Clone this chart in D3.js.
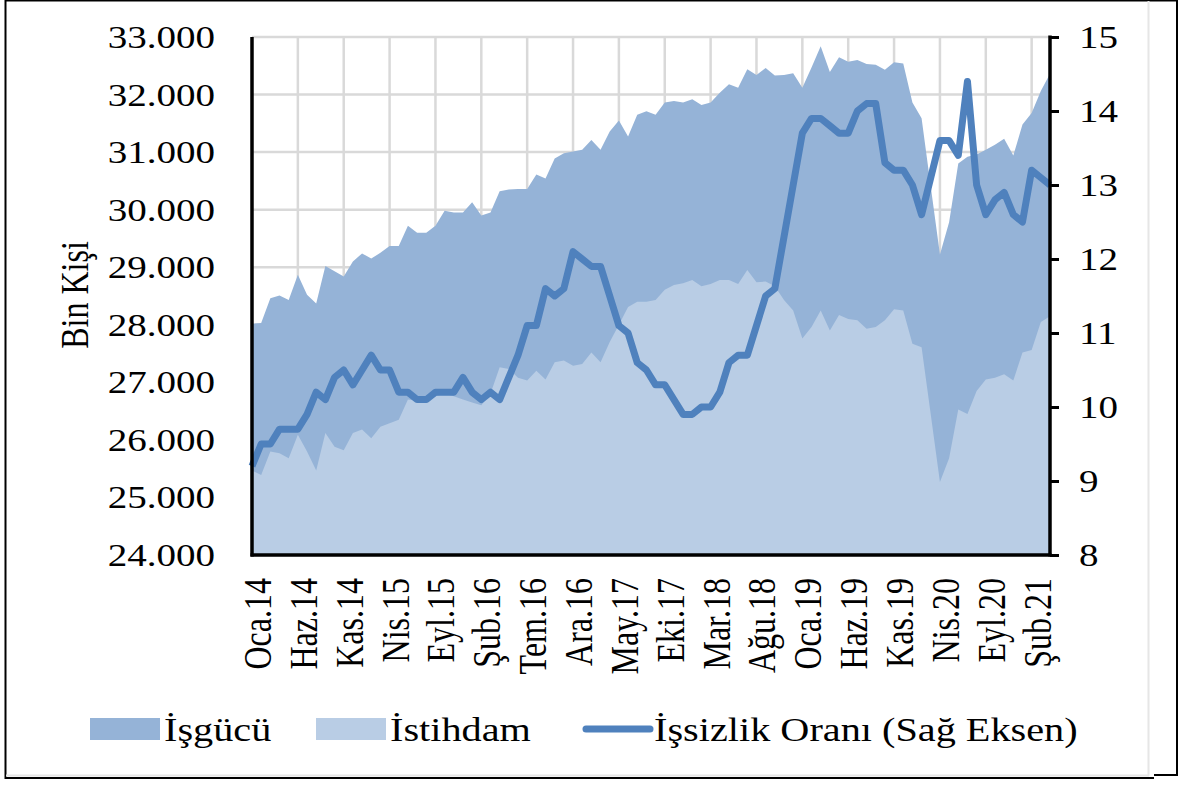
<!DOCTYPE html>
<html>
<head>
<meta charset="utf-8">
<script src="https://cdn.jsdelivr.net/npm/d3@7"></script>
<style>
    html, body { margin: 0; padding: 0; background: #fff; }
    svg text { font-family: "Liberation Serif", "Times New Roman", serif; fill: #000; }
</style>
</head>
<body>
<div class="data_figure"></div>
<script>
// month names used on the category axis
const monthNames = ["Oca", "Şub", "Mar", "Nis", "May", "Haz", "Tem", "Ağu", "Eyl", "Eki", "Kas", "Ara"];
const firstYear = 2014;
const pointCount = 88; // Oca.14 .. Nis.21

const tickLabels = ["Oca.14", "Haz.14", "Kas.14", "Nis.15", "Eyl.15", "Şub.16", "Tem.16", "Ara.16", "May.17",
                    "Eki.17", "Mar.18", "Ağu.18", "Oca.19", "Haz.19", "Kas.19", "Nis.20", "Eyl.20", "Şub.21"];

// İşgücü (bin kişi)
const isgucu = [
    28020, 28030, 28460, 28510, 28430, 28870, 28520, 28370, 29020, 28930, 28840, 29100,
    29240, 29150, 29250, 29370, 29370, 29720, 29600, 29600, 29720, 29980, 29950, 29950,
    30130, 29900, 29950, 30320, 30350, 30360, 30360, 30610, 30540, 30890, 30980, 31010,
    31040, 31210, 31040, 31360, 31550, 31270, 31650, 31710, 31650, 31860, 31890, 31860,
    31920, 31820, 31860, 32030, 32180, 32120, 32440, 32340, 32460, 32330, 32340, 32370,
    32120, 32470, 32840, 32390, 32650, 32570, 32600, 32530, 32520, 32430, 32560, 32540,
    31860, 31590, 30400, 29220, 29780, 30800, 30920, 30960, 31040, 31130, 31230, 30940,
    31480, 31680, 32060, 32360
];

// İstihdam (bin kişi)
const istihdam = [
    25470, 25390, 25800, 25770, 25680, 26090, 25800, 25470, 26120, 25880, 25820, 26120,
    26180, 26030, 26230, 26290, 26350, 26700, 26680, 26700, 26760, 26800, 26760, 26700,
    26650, 26600, 26800, 27260, 27230, 27080, 27030, 27200, 27050, 27350, 27380, 27290,
    27320, 27520, 27350, 27700, 28000, 28310, 28400, 28400, 28430, 28610, 28690, 28720,
    28780, 28670, 28710, 28780, 28780, 28710, 28950, 28740, 28750, 28670, 28430, 28250,
    27760, 27960, 28250, 27900, 28170, 28100, 28080, 27930, 27960, 28080, 28270, 28250,
    27670, 27610, 26440, 25270, 25680, 26530, 26450, 26850, 27050, 27080, 27140, 27030,
    27520, 27560, 28050, 28150
];

// İşsizlik oranı (%), sağ eksen
const issizlik = [
    9.2, 9.5, 9.5, 9.7, 9.7, 9.7, 9.9, 10.2, 10.1, 10.4, 10.5, 10.3,
    10.5, 10.7, 10.5, 10.5, 10.2, 10.2, 10.1, 10.1, 10.2, 10.2, 10.2, 10.4,
    10.2, 10.1, 10.2, 10.1, 10.4, 10.7, 11.1, 11.1, 11.6, 11.5, 11.6, 12.1,
    12.0, 11.9, 11.9, 11.5, 11.1, 11.0, 10.6, 10.5, 10.3, 10.3, 10.1, 9.9,
    9.9, 10.0, 10.0, 10.2, 10.6, 10.7, 10.7, 11.1, 11.5, 11.6, 12.3, 13.0,
    13.7, 13.9, 13.9, 13.8, 13.7, 13.7, 14.0, 14.1, 14.1, 13.3, 13.2, 13.2,
    13.0, 12.6, 13.1, 13.6, 13.6, 13.4, 14.4, 13.0, 12.6, 12.8, 12.9, 12.6,
    12.5, 13.2, 13.1, 13.0
];

const leftTicks = [24000, 25000, 26000, 27000, 28000, 29000, 30000, 31000, 32000, 33000];
const rightTicks = [8, 9, 10, 11, 12, 13, 14, 15];
const legendNames = ["İşgücü", "İstihdam", "İşsizlik Oranı (Sağ Eksen)"];

const widthMax = 1178;
const heightMax = 785;
const plot = { left: 252, right: 1050, top: 37, bottom: 555 };
const sx = 1.22; // text in the picture is stretched horizontally
const fontSize = 32;

const colIsgucu = "#95b3d7";
const colIstihdam = "#b9cde5";
const colLine = "#4f81bd";
const colGrid = "#d9d9d9";

// build category list
const categories = [];
for (let i = 0; i < pointCount; i++) {
    categories.push(monthNames[i % 12] + "." + String(firstYear + Math.floor(i / 12)).slice(2));
}

const trLocale = d3.formatLocale({ decimal: ",", thousands: ".", grouping: [3], currency: ["", ""] });
const fmtThousands = trLocale.format(",");

const svg = d3.select(".data_figure")
    .append("svg")
    .attr("width", widthMax)
    .attr("height", heightMax);

const xScale = d3.scalePoint()
    .domain(categories)
    .range([plot.left, plot.right])
    .padding(0);

const yLeft = d3.scaleLinear()
    .domain([24000, 33000])
    .range([plot.bottom, plot.top]);

const yRight = d3.scaleLinear()
    .domain([8, 15])
    .range([plot.bottom, plot.top]);

// outer frame
svg.append("line").attr("x1", 5).attr("x2", 1178).attr("y1", 0.5).attr("y2", 0.5)
    .attr("stroke", "#000").attr("stroke-width", 2);
svg.append("line").attr("x1", 5.5).attr("x2", 5.5).attr("y1", 0).attr("y2", 779)
    .attr("stroke", "#000").attr("stroke-width", 2);
svg.append("line").attr("x1", 5).attr("x2", 1154).attr("y1", 778).attr("y2", 778)
    .attr("stroke", "#000").attr("stroke-width", 2);
svg.append("line").attr("x1", 1154).attr("x2", 1178).attr("y1", 775).attr("y2", 775)
    .attr("stroke", "#000").attr("stroke-width", 2);
svg.append("line").attr("x1", 1177).attr("x2", 1177).attr("y1", 0).attr("y2", 775)
    .attr("stroke", "#000").attr("stroke-width", 2);
svg.append("line").attr("x1", 1148.5).attr("x2", 1148.5).attr("y1", 1).attr("y2", 776)
    .attr("stroke", "#e6e6e6").attr("stroke-width", 2);
svg.append("line").attr("x1", 6).attr("x2", 1149).attr("y1", 775.5).attr("y2", 775.5)
    .attr("stroke", "#e6e6e6").attr("stroke-width", 2);

// gridlines
const tickCats = categories.filter((d, i) => i % 5 === 0);
svg.append("g")
    .selectAll("line")
    .data(leftTicks)
    .enter()
    .append("line")
    .attr("x1", plot.left).attr("x2", plot.right)
    .attr("y1", d => yLeft(d)).attr("y2", d => yLeft(d))
    .attr("stroke", colGrid).attr("stroke-width", 2.5);
svg.append("g")
    .selectAll("line")
    .data(tickCats.slice(1))
    .enter()
    .append("line")
    .attr("x1", d => xScale(d)).attr("x2", d => xScale(d))
    .attr("y1", plot.top).attr("y2", plot.bottom)
    .attr("stroke", colGrid).attr("stroke-width", 2.5);

// areas
const areaOf = (vals) => d3.area()
    .x((d, i) => xScale(categories[i]))
    .y0(yLeft(24000))
    .y1(d => yLeft(d))(vals);

svg.append("path").attr("d", areaOf(isgucu)).attr("fill", colIsgucu);
svg.append("path").attr("d", areaOf(istihdam)).attr("fill", colIstihdam);

// unemployment line
const line = d3.line()
    .x((d, i) => xScale(categories[i]))
    .y(d => yRight(d));
svg.append("path")
    .attr("d", line(issizlik))
    .attr("fill", "none")
    .attr("stroke", colLine)
    .attr("stroke-width", 7)
    .attr("stroke-linejoin", "round")
    .attr("stroke-linecap", "butt");

// axes
const leftAxis = svg.append("g")
    .attr("transform", "translate(" + plot.left + ",0)")
    .call(d3.axisLeft(yLeft).tickValues(leftTicks).tickSize(0).tickFormat(""));
const rightAxis = svg.append("g")
    .attr("transform", "translate(" + plot.right + ",0)")
    .call(d3.axisRight(yRight).tickValues(rightTicks).tickSize(9).tickFormat(""));
const bottomAxis = svg.append("g")
    .attr("transform", "translate(0," + plot.bottom + ")")
    .call(d3.axisBottom(xScale).tickValues(tickCats).tickSize(0).tickFormat(""));
[leftAxis, rightAxis, bottomAxis].forEach(a => {
    a.selectAll("path").attr("stroke", "#000").attr("stroke-width", 3.5);
    a.selectAll("line").attr("stroke", "#000").attr("stroke-width", 3);
});
bottomAxis.select("path").attr("d", "M" + (plot.left - 1.5) + ",0H" + (plot.right + 1.5));
leftAxis.select("path").attr("d", "M0," + plot.top + "V" + (plot.bottom + 1.5));
rightAxis.select("path").attr("d", "M0," + (plot.top - 1.5) + "V" + (plot.bottom + 1.5));

// tick labels
svg.append("g")
    .selectAll("text")
    .data(leftTicks)
    .enter()
    .append("text")
    .attr("transform", d => "translate(215," + (yLeft(d) + 11) + ") scale(" + sx + ",1)")
    .attr("text-anchor", "end")
    .style("font-size", fontSize + "px")
    .text(d => fmtThousands(d));

svg.append("g")
    .selectAll("text")
    .data(rightTicks)
    .enter()
    .append("text")
    .attr("transform", d => "translate(1079," + (yRight(d) + 11) + ") scale(" + sx + ",1)")
    .attr("text-anchor", "start")
    .style("font-size", fontSize + "px")
    .text(d => d);

svg.append("g")
    .selectAll("text")
    .data(tickCats)
    .enter()
    .append("text")
    .attr("transform", (d, i) => "translate(" + (xScale(d) + 19) + ",578) scale(" + sx + ",1) rotate(-90)")
    .attr("text-anchor", "end")
    .style("font-size", fontSize + "px")
    .text((d, i) => tickLabels[i]);

// axis title
svg.append("text")
    .attr("transform", "translate(88,295) scale(" + sx + ",1) rotate(-90)")
    .attr("text-anchor", "middle")
    .style("font-size", fontSize + "px")
    .text("Bin Kişi");

// legend
const legendY = 729;
const legend = svg.append("g").attr("id", "legend");
legend.append("rect").attr("x", 90).attr("y", legendY - 11).attr("width", 70).attr("height", 22).attr("fill", colIsgucu);
legend.append("rect").attr("x", 316).attr("y", legendY - 11).attr("width", 70).attr("height", 22).attr("fill", colIstihdam);
legend.append("line").attr("x1", 586).attr("x2", 650).attr("y1", legendY).attr("y2", legendY)
    .attr("stroke", colLine).attr("stroke-width", 7).attr("stroke-linecap", "round");
const legendX = [164, 390, 654];
legend.selectAll("text")
    .data(legendNames)
    .enter()
    .append("text")
    .attr("transform", (d, i) => "translate(" + legendX[i] + "," + (legendY + 12) + ") scale(" + sx + ",1)")
    .style("font-size", "33px")
    .text(d => d);
</script>
</body>
</html>
